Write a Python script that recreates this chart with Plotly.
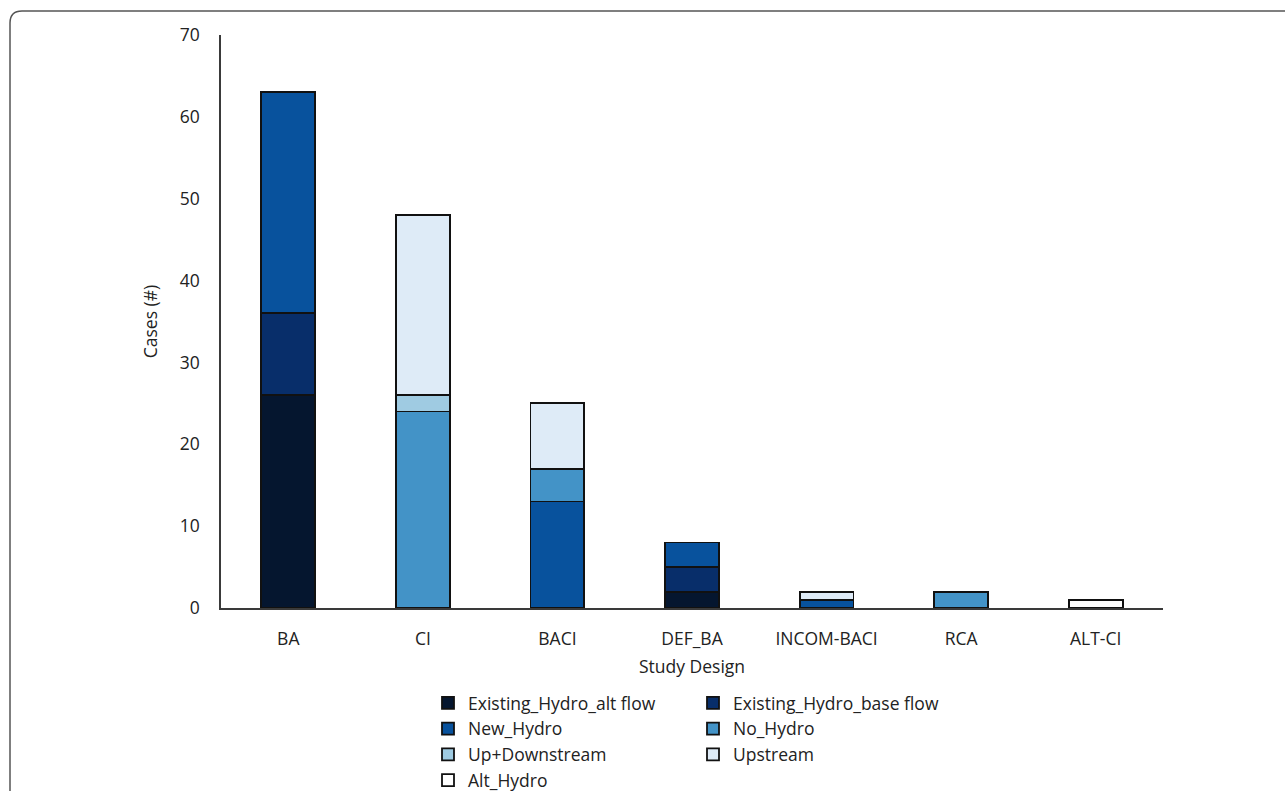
import plotly.graph_objects as go

categories = ["BA", "CI", "BACI", "DEF_BA", "INCOM-BACI", "RCA", "ALT-CI"]

existing_hydro_alt_flow = [26, 0, 0, 2, 0, 0, 0]
existing_hydro_base_flow = [10, 0, 0, 3, 0, 0, 0]
new_hydro = [27, 0, 13, 3, 1, 0, 0]
no_hydro = [0, 24, 4, 0, 0, 2, 0]
up_downstream = [0, 2, 0, 0, 0, 0, 0]
upstream = [0, 22, 8, 0, 1, 0, 0]
alt_hydro = [0, 0, 0, 0, 0, 0, 1]

series = [
    ("Existing_Hydro_alt flow", existing_hydro_alt_flow, "#05162f", "legend"),
    ("Existing_Hydro_base flow", existing_hydro_base_flow, "#082e6a", "legend2"),
    ("New_Hydro", new_hydro, "#08529d", "legend"),
    ("No_Hydro", no_hydro, "#4393c7", "legend2"),
    ("Up+Downstream", up_downstream, "#9fcbe2", "legend"),
    ("Upstream", upstream, "#deebf7", "legend2"),
    ("Alt_Hydro", alt_hydro, "#ffffff", "legend"),
]

W, H = 1285, 791
L, R, T, B = 221, 122, 35, 183
PW, PH = W - L - R, H - T - B


def px(x):
    return (x - L) / PW


def py(y):
    return (H - B - y) / PH


FONT = "Open Sans"
FS = 17.5
fig = go.Figure()
for i, (name, vals, color, lg) in enumerate(series):
    fig.add_trace(go.Bar(
        x=categories,
        y=[v if v else None for v in vals],
        name=name,
        marker=dict(color=color, line=dict(color="#111111", width=1.8)),
        legend=lg,
        legendgroup=f"g{i}",
    ))

# rounded card border (decorative)
r = 12
x0, y0 = 10, 11
x1, y1 = W + 5, H + 20
path = (f"M {px(x0)} {py(y1)} L {px(x0)} {py(y0 + r)} "
        f"Q {px(x0)} {py(y0)} {px(x0 + r)} {py(y0)} L {px(x1)} {py(y0)}")
fig.add_shape(type="path", path=path, xref="paper", yref="paper",
              line=dict(color="#555555", width=1.5), layer="above")

legend_common = dict(
    orientation="v",
    font=dict(family=FONT, size=FS, color="#222222"),
    traceorder="grouped",
    tracegroupgap=0,
    bgcolor="rgba(0,0,0,0)",
    yanchor="top",
    xanchor="left",
    itemclick=False,
)

fig.update_layout(
    width=W, height=H,
    margin=dict(l=L, r=R, t=T, b=B, autoexpand=False),
    barmode="stack",
    bargap=0.6,
    plot_bgcolor="white",
    paper_bgcolor="white",
    font=dict(family=FONT, size=FS, color="#222222"),
    legend=dict(x=px(428), y=py(685), **legend_common),
    legend2=dict(x=px(693), y=py(685), **legend_common),
    xaxis=dict(
        title=dict(text="Study Design", font=dict(family=FONT, size=FS), standoff=12),
        showline=True, linecolor="#3a3a3a", linewidth=1.5,
        ticks="", showgrid=False, tickfont=dict(family=FONT, size=FS),
        ticklabelstandoff=14,
    ),
    yaxis=dict(
        title=dict(text="Cases (#)", font=dict(family=FONT, size=FS), standoff=18),
        range=[0, 70], dtick=10,
        showline=True, linecolor="#3a3a3a", linewidth=1.5,
        ticks="", showgrid=False, zeroline=False,
        tickfont=dict(family=FONT, size=FS),
        ticklabelstandoff=16,
    ),
)

fig.write_html("out.html")
